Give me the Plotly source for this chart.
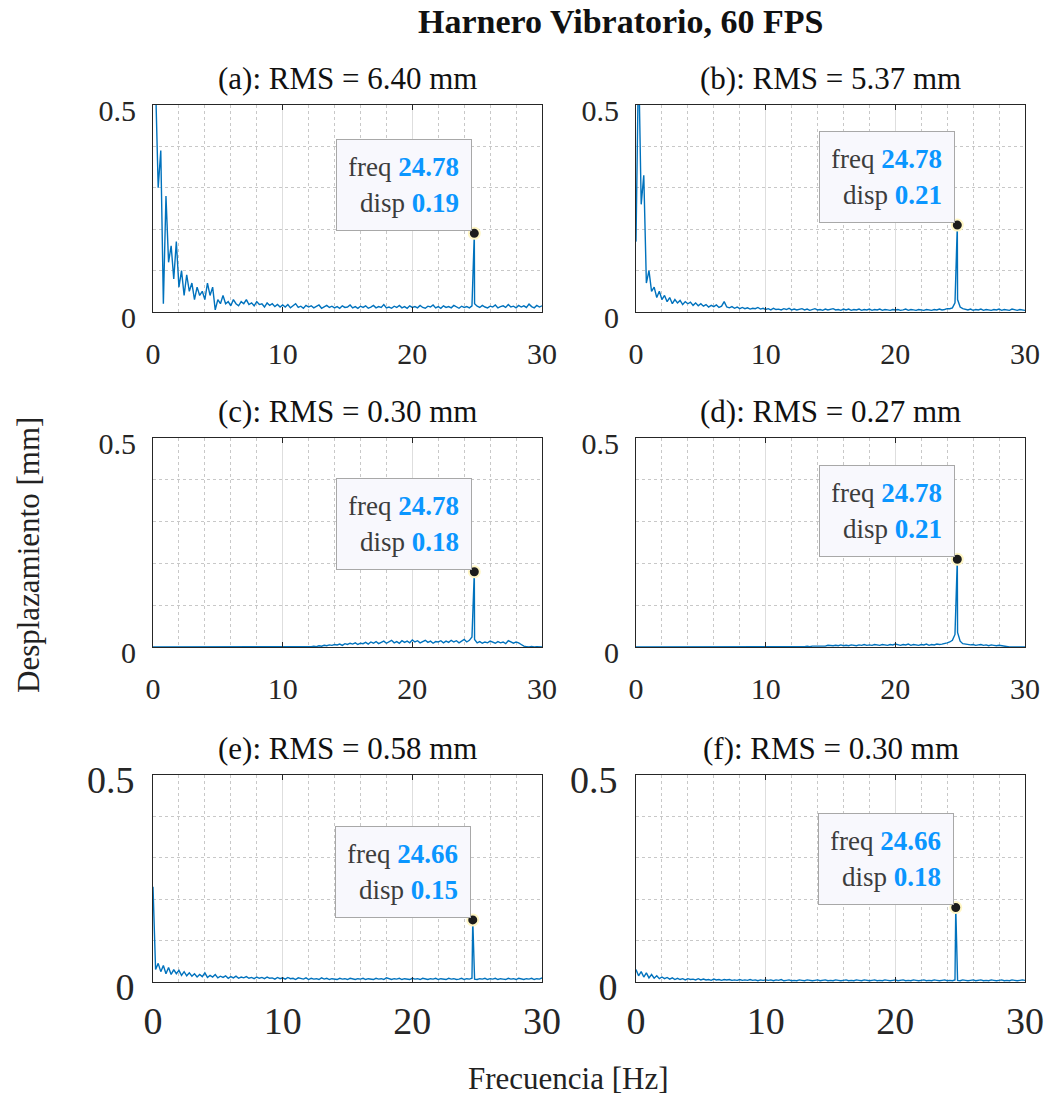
import numpy as np
import plotly.graph_objects as go

# ---------------- data ----------------
freq_step = 0.2  # Hz, spectrum grid 0..30 Hz (151 points)

disp_a = [
    0.62, 0.55, 0.30, 0.39, 0.02, 0.28,
    0.12, 0.16, 0.08, 0.17, 0.06,
    0.10, 0.04, 0.09, 0.05, 0.07,
    0.03, 0.06, 0.04, 0.05, 0.03,
    0.07, 0.04, 0.06, 0.005, 0.03,
    0.02, 0.04, 0.02, 0.025, 0.015,
    0.03, 0.02, 0.015, 0.025, 0.02,
    0.03, 0.018, 0.022, 0.015, 0.025,
    0.018, 0.02, 0.012, 0.022, 0.016,
    0.02, 0.013, 0.018, 0.012, 0.017,
    0.012, 0.018, 0.01, 0.015, 0.02, 0.011, 0.014, 0.009, 0.016, 0.012,
    0.015, 0.01, 0.013, 0.017, 0.009, 0.012, 0.016, 0.011, 0.014, 0.01,
    0.013, 0.009, 0.015, 0.011, 0.012, 0.017, 0.01, 0.013, 0.009, 0.014,
    0.011, 0.015, 0.009, 0.012, 0.016, 0.01, 0.013, 0.011, 0.018, 0.01,
    0.012, 0.009, 0.014, 0.011, 0.016, 0.01, 0.013, 0.009, 0.015, 0.011,
    0.013, 0.01, 0.016, 0.011, 0.009, 0.014, 0.012, 0.017, 0.01, 0.013,
    0.009, 0.015, 0.011, 0.013, 0.01, 0.016, 0.012, 0.009, 0.014, 0.011,
    0.013, 0.01, 0.015, 0.02, 0.014, 0.011, 0.016, 0.012, 0.01, 0.014,
    0.012, 0.017, 0.01, 0.013, 0.015, 0.011, 0.018, 0.012, 0.014, 0.01,
    0.016, 0.012, 0.015, 0.011, 0.019, 0.013, 0.01, 0.016, 0.012, 0.015,
]

disp_b = [
    0.17, 0.62, 0.26, 0.33, 0.07, 0.10,
    0.05, 0.06, 0.035, 0.05, 0.03,
    0.04, 0.025, 0.035, 0.02, 0.03,
    0.022, 0.028, 0.018, 0.025, 0.02,
    0.024, 0.016, 0.022, 0.015, 0.02,
    0.014, 0.018, 0.012, 0.016, 0.013,
    0.017, 0.011, 0.014, 0.025, 0.012,
    0.01, 0.013, 0.009, 0.012, 0.008,
    0.011, 0.008, 0.01, 0.007, 0.009, 0.008, 0.011, 0.007, 0.009, 0.006,
    0.008, 0.005, 0.009, 0.006, 0.007, 0.005, 0.008, 0.006, 0.009, 0.005,
    0.007, 0.005, 0.006, 0.008, 0.005, 0.007, 0.004, 0.006, 0.008, 0.005,
    0.006, 0.004, 0.007, 0.005, 0.006, 0.008, 0.005, 0.006, 0.004, 0.007,
    0.005, 0.007, 0.004, 0.006, 0.005, 0.007, 0.004, 0.006, 0.005, 0.007,
    0.004, 0.006, 0.005, 0.007, 0.004, 0.006, 0.005, 0.004, 0.006, 0.005,
    0.006, 0.004, 0.005, 0.007, 0.004, 0.006, 0.005, 0.004, 0.006, 0.005,
    0.004, 0.006, 0.005, 0.004, 0.006, 0.005, 0.007, 0.005, 0.006, 0.008,
    0.008, 0.01, 0.022, 0.03, 0.012, 0.008, 0.006, 0.005, 0.007, 0.004,
    0.006, 0.005, 0.007, 0.004, 0.006, 0.005, 0.004, 0.006, 0.005, 0.007,
    0.004, 0.006, 0.005, 0.004, 0.007, 0.005, 0.004, 0.006, 0.005, 0.004,
]

disp_c = [
    0.0, 0.0, 0.0, 0.0, 0.0, 0.0, 0.0, 0.0, 0.0, 0.0,
    0.0, 0.0, 0.0, 0.0, 0.0, 0.0, 0.0, 0.0, 0.0, 0.0,
    0.0, 0.0, 0.0, 0.0, 0.0, 0.0, 0.0, 0.0, 0.0, 0.0,
    0.0, 0.0, 0.0, 0.0, 0.0, 0.0, 0.0, 0.0, 0.0, 0.0,
    0.0, 0.0, 0.0, 0.0, 0.0, 0.0, 0.0, 0.0, 0.0, 0.0,
    0.0, 0.0, 0.0, 0.0, 0.0, 0.0, 0.0, 0.0, 0.0, 0.0,
    0.0,
    0.001, 0.002, 0.001, 0.003, 0.002, 0.004, 0.003, 0.005, 0.004, 0.006,
    0.005, 0.007, 0.004, 0.008, 0.006, 0.009, 0.007, 0.01, 0.006, 0.009,
    0.008, 0.011, 0.007, 0.012, 0.009, 0.013, 0.008, 0.011, 0.014, 0.009,
    0.012, 0.016, 0.01, 0.013, 0.009, 0.015, 0.011, 0.014, 0.01, 0.017,
    0.012, 0.015, 0.01, 0.013, 0.016, 0.011, 0.014, 0.009, 0.013, 0.012,
    0.015, 0.01, 0.014, 0.011, 0.016, 0.012, 0.015, 0.01, 0.014, 0.018,
    0.012, 0.016, 0.024, 0.018, 0.01, 0.013, 0.009, 0.012, 0.01, 0.014,
    0.011, 0.009, 0.013, 0.01, 0.012, 0.008, 0.015, 0.011, 0.009, 0.012,
    0.01, 0.006, 0.002, 0.001, 0.0, 0.001, 0.0, 0.001, 0.0, 0.0,
]

disp_d = [
    0.0, 0.0, 0.0, 0.0, 0.0, 0.0, 0.0, 0.0, 0.0, 0.0,
    0.0, 0.0, 0.0, 0.0, 0.0, 0.0, 0.0, 0.0, 0.0, 0.0,
    0.0, 0.0, 0.0, 0.0, 0.0, 0.0, 0.0, 0.0, 0.0, 0.0,
    0.0, 0.0, 0.0, 0.0, 0.0, 0.0, 0.0, 0.0, 0.0, 0.0,
    0.0, 0.0, 0.0, 0.0, 0.0, 0.0, 0.0, 0.0, 0.0, 0.0,
    0.0, 0.0, 0.0, 0.0, 0.0, 0.0, 0.0, 0.0, 0.0, 0.0,
    0.0,
    0.0, 0.001, 0.0, 0.001, 0.001, 0.002, 0.001, 0.002, 0.002, 0.003,
    0.002, 0.003, 0.002, 0.004, 0.003, 0.003, 0.004, 0.003, 0.005, 0.003,
    0.004, 0.003, 0.005, 0.004, 0.003, 0.005, 0.004, 0.006, 0.004, 0.005,
    0.004, 0.006, 0.005, 0.004, 0.006, 0.005, 0.004, 0.006, 0.005, 0.007,
    0.005, 0.004, 0.006, 0.005, 0.007, 0.004, 0.006, 0.005, 0.004, 0.006,
    0.005, 0.007, 0.004, 0.006, 0.005, 0.007, 0.006, 0.007, 0.008, 0.01,
    0.012, 0.016, 0.03, 0.035, 0.014, 0.008, 0.007, 0.006, 0.005, 0.006,
    0.004, 0.005, 0.006, 0.004, 0.005, 0.003, 0.005, 0.004, 0.003, 0.004,
    0.003, 0.001, 0.0, 0.0, 0.0, 0.0, 0.0, 0.0, 0.0, 0.0,
]

disp_e = [
    0.23, 0.03, 0.045, 0.025, 0.04, 0.02,
    0.035, 0.018, 0.03, 0.02, 0.028,
    0.016, 0.025, 0.015, 0.022, 0.014,
    0.02, 0.012, 0.018, 0.013, 0.022,
    0.011, 0.016, 0.012, 0.018, 0.01,
    0.014, 0.011, 0.015, 0.009, 0.013,
    0.01, 0.014, 0.009, 0.012, 0.01,
    0.013, 0.009, 0.011, 0.008, 0.012,
    0.009, 0.011, 0.008, 0.012, 0.009, 0.01, 0.007, 0.011, 0.008, 0.01,
    0.007, 0.011, 0.008, 0.009, 0.006, 0.01, 0.008, 0.007, 0.01, 0.006,
    0.009, 0.007, 0.008, 0.006, 0.01, 0.007, 0.009, 0.006, 0.008, 0.007,
    0.006, 0.009, 0.007, 0.008, 0.006, 0.009, 0.007, 0.006, 0.008, 0.007,
    0.009, 0.006, 0.008, 0.007, 0.006, 0.009, 0.007, 0.008, 0.006, 0.01,
    0.007, 0.006, 0.008, 0.007, 0.009, 0.006, 0.008, 0.007, 0.006, 0.009,
    0.007, 0.008, 0.006, 0.009, 0.007, 0.006, 0.008, 0.007, 0.009, 0.006,
    0.008, 0.007, 0.006, 0.009, 0.007, 0.008, 0.006, 0.007, 0.009, 0.006,
    0.008, 0.007, 0.009, 0.007, 0.006, 0.008, 0.007, 0.009, 0.006, 0.008,
    0.007, 0.009, 0.006, 0.008, 0.007, 0.006, 0.009, 0.007, 0.008, 0.006,
    0.009, 0.007, 0.006, 0.008, 0.007, 0.009, 0.006, 0.008, 0.007, 0.01,
]

disp_f = [
    0.03, 0.015, 0.025, 0.012, 0.022, 0.01,
    0.018, 0.009, 0.015, 0.008, 0.012,
    0.008, 0.011, 0.007, 0.01, 0.006,
    0.009, 0.006, 0.008, 0.005, 0.008,
    0.006, 0.007, 0.005, 0.008, 0.005,
    0.007, 0.005, 0.006, 0.004, 0.007,
    0.005, 0.006, 0.004, 0.006, 0.005,
    0.006, 0.004, 0.005, 0.004, 0.006,
    0.004, 0.005, 0.004, 0.006, 0.004, 0.005, 0.003, 0.005, 0.004, 0.005,
    0.004, 0.005, 0.003, 0.005, 0.004, 0.006, 0.003, 0.004, 0.005, 0.003,
    0.004, 0.003, 0.005, 0.004, 0.003, 0.005, 0.004, 0.003, 0.004, 0.005,
    0.003, 0.004, 0.005, 0.003, 0.004, 0.003, 0.005, 0.004, 0.003, 0.004,
    0.005, 0.003, 0.004, 0.003, 0.005, 0.004, 0.003, 0.005, 0.004, 0.003,
    0.004, 0.005, 0.003, 0.004, 0.003, 0.005, 0.004, 0.003, 0.004, 0.005,
    0.003, 0.004, 0.005, 0.003, 0.004, 0.003, 0.005, 0.004, 0.003, 0.004,
    0.005, 0.003, 0.004, 0.003, 0.005, 0.004, 0.003, 0.004, 0.005, 0.003,
    0.004, 0.003, 0.005, 0.004, 0.003, 0.005, 0.004, 0.003, 0.004, 0.005,
    0.003, 0.004, 0.005, 0.003, 0.004, 0.003, 0.005, 0.004, 0.003, 0.004,
    0.005, 0.003, 0.004, 0.003, 0.005, 0.004, 0.003, 0.004, 0.005, 0.004,
]

panel_letters = ["a", "b", "c", "d", "e", "f"]
rms_mm = [6.40, 5.37, 0.30, 0.27, 0.58, 0.30]
peak_freq = [24.78, 24.78, 24.78, 24.78, 24.66, 24.66]
peak_disp = [0.19, 0.21, 0.18, 0.21, 0.15, 0.18]
x_tick_vals = [0, 10, 20, 30]
y_tick_vals = [0, 0.5]
y_tick_text = ["0", "0.5"]

main_title = "Harnero Vibratorio, 60 FPS"
x_title = "Frecuencia [Hz]"
y_title = "Desplazamiento [mm]"

series = [disp_a, disp_b, disp_c, disp_d, disp_e, disp_f]

# ---------------- layout geometry ----------------
W, H = 1047, 1095
FONT = "Liberation Serif"
LINE_COLOR = "#0072BD"
AX_COLOR = "#262626"
NUM_COLOR = "#0a96ff"

col_px = [(153, 542), (636, 1025)]
row_px = [(105, 312), (438, 647), (775, 982)]


def px_x(p):
    return p / W


def px_y(p):
    return 1 - p / H


fig = go.Figure()
annotations = []

for k, vals in enumerate(series):
    r, c = divmod(k, 2)
    n = k + 1
    xa = "x" if n == 1 else f"x{n}"
    ya = "y" if n == 1 else f"y{n}"

    freq = [round(i * freq_step, 2) for i in range(len(vals))]
    pts = sorted(zip(freq + [peak_freq[k]], list(vals) + [peak_disp[k]]))
    fx = [p[0] for p in pts]
    fy = [p[1] for p in pts]

    fig.add_trace(go.Scatter(x=fx, y=fy, mode="lines", xaxis=xa, yaxis=ya,
                             line=dict(color=LINE_COLOR, width=1.4),
                             showlegend=False, hoverinfo="skip"))
    fig.add_trace(go.Scatter(x=[peak_freq[k]], y=[peak_disp[k]], mode="markers",
                             xaxis=xa, yaxis=ya, cliponaxis=False,
                             marker=dict(color="#1c1c1c", size=11,
                                         line=dict(color="#fff6c4", width=2)),
                             showlegend=False, hoverinfo="skip"))

    big = r == 2
    tfs = 38 if big else 30
    x0, x1 = col_px[c]
    t, b = row_px[r]

    xaxis = dict(domain=[px_x(x0), px_x(x1)], anchor=ya, range=[0, 30],
                 tickvals=x_tick_vals, ticks="inside", ticklen=5,
                 tickcolor=AX_COLOR, showline=True, linecolor=AX_COLOR,
                 linewidth=1, mirror="ticks", zeroline=False, automargin=False,
                 showgrid=True, gridcolor="#dedede", gridwidth=1,
                 minor=dict(dtick=2, tick0=0, showgrid=True,
                            gridcolor="#c8c8c8", griddash="dot", gridwidth=1),
                 tickfont=dict(family=FONT, size=tfs, color=AX_COLOR),
                 ticklabelstandoff=5 if big else 15, fixedrange=True)
    yaxis = dict(domain=[px_y(b), px_y(t)], anchor=xa, range=[0, 0.5],
                 tickvals=y_tick_vals, ticktext=y_tick_text,
                 ticks="inside", ticklen=5, tickcolor=AX_COLOR,
                 showline=True, linecolor=AX_COLOR, linewidth=1,
                 mirror="ticks", zeroline=False, automargin=False,
                 showgrid=True, gridcolor="#dedede", gridwidth=1,
                 minor=dict(dtick=0.1, tick0=0, showgrid=True,
                            gridcolor="#c8c8c8", griddash="dot", gridwidth=1),
                 tickfont=dict(family=FONT, size=tfs, color=AX_COLOR),
                 ticklabelstandoff=10, ticklabelshift=5, fixedrange=True)
    fig.layout[("xaxis" if n == 1 else f"xaxis{n}")] = xaxis
    fig.layout[("yaxis" if n == 1 else f"yaxis{n}")] = yaxis

    # subplot title
    annotations.append(dict(
        x=px_x((x0 + x1) / 2), y=px_y(t - 27), xref="paper", yref="paper",
        text=f"({panel_letters[k]}): RMS = {rms_mm[k]:.2f} mm",
        showarrow=False, xanchor="center", yanchor="middle",
        font=dict(family=FONT, size=31, color="#111111")))

    # data tip
    annotations.append(dict(
        x=peak_freq[k], y=peak_disp[k], xref=xa, yref=ya,
        text=(f"freq <b><span style='color:{NUM_COLOR}'>{peak_freq[k]:.2f}</span></b><br>"
              f"disp <b><span style='color:{NUM_COLOR}'>{peak_disp[k]:.2f}</span></b>"),
        showarrow=False, xanchor="right", yanchor="bottom", align="right",
        xshift=-2, yshift=2, width=110, height=66, valign="middle",
        bgcolor="#f8f8fd", bordercolor="#a8a8a8", borderwidth=1, borderpad=12,
        font=dict(family=FONT, size=27, color="#3c3c3c")))

annotations.append(dict(
    x=px_x(620), y=px_y(22), xref="paper", yref="paper", text=f"<b>{main_title}</b>",
    showarrow=False, xanchor="center", yanchor="middle",
    font=dict(family=FONT, size=34, color="#111111")))
annotations.append(dict(
    x=px_x(568), y=px_y(1078), xref="paper", yref="paper", text=x_title,
    showarrow=False, xanchor="center", yanchor="middle",
    font=dict(family=FONT, size=31, color="#222222")))
annotations.append(dict(
    x=px_x(28), y=px_y(555), xref="paper", yref="paper", text=y_title,
    showarrow=False, xanchor="center", yanchor="middle", textangle=-90,
    font=dict(family=FONT, size=31, color="#222222")))

fig.update_layout(width=W, height=H, margin=dict(l=0, r=0, t=0, b=0, autoexpand=False),
                  paper_bgcolor="white", plot_bgcolor="white",
                  annotations=annotations, showlegend=False)

fig.write_html("out.html", config={"displayModeBar": False})
